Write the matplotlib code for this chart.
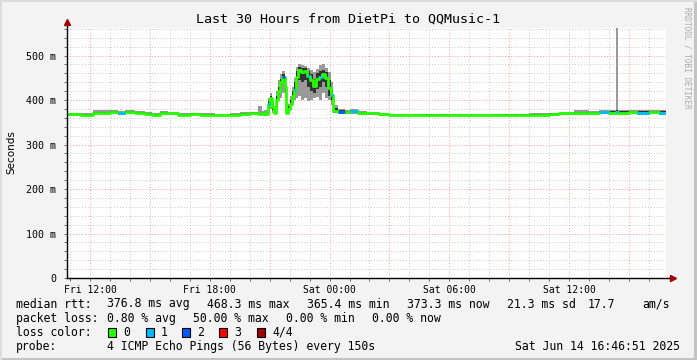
import numpy as np
import matplotlib
matplotlib.use("Agg")
import matplotlib.pyplot as plt
from matplotlib.patches import Rectangle
from matplotlib.lines import Line2D
from matplotlib.ticker import MultipleLocator, FixedLocator

# hours since Fri 00:00
start_time = 10.85
end_time = 40.85

times = [10.85, 11.50, 12.15, 13.00, 13.40, 13.75, 14.25, 14.75, 15.10, 15.50,
         15.90, 16.40, 17.00, 17.50, 18.25, 19.00, 19.50, 20.00, 20.40, 20.60,
         20.70, 20.90, 21.00, 21.10, 21.20, 21.30, 21.40, 21.50, 21.60, 21.75,
         21.80, 21.90, 22.00, 22.10, 22.20, 22.30, 22.40, 22.55, 22.70, 22.85,
         23.00, 23.15, 23.30, 23.45, 23.60, 23.75, 23.90, 24.05, 24.15, 24.40,
         24.75, 25.00, 25.40, 25.90, 26.50, 27.00, 28.50, 30.00, 32.50, 34.00,
         35.00, 35.50, 36.25, 37.00, 37.50, 38.00, 38.35, 38.45, 39.00, 39.40,
         40.00, 40.50]

# median rtt in ms
median = [368, 367, 372, 373, 370, 373, 372, 369, 367, 371,
          370, 367, 369, 367, 366, 367, 369, 371, 369, 372,
          368, 392, 405, 385, 372, 400, 420, 440, 452, 430,
          372, 380, 392, 410, 423, 452, 468, 462, 465, 455,
          445, 432, 448, 452, 458, 450, 428, 412, 376, 374,
          373, 375, 372, 370, 368, 366, 367, 366, 367, 367,
          368, 370, 372, 371, 373, 372, 374, 372, 373, 372,
          373, 372]

# number of lost pings (of 4)
loss = [0, 0, 0, 0, 1, 0, 0, 0, 0, 0,
        0, 0, 0, 0, 0, 0, 0, 0, 0, 0,
        0, 1, 0, 0, 0, 0, 0, 0, 2, 0,
        0, 0, 0, 0, 1, 0, 0, 0, 0, 1,
        0, 0, 0, 1, 0, 0, 0, 1, 0, 2,
        0, 1, 0, 0, 0, 0, 0, 0, 0, 0,
        0, 0, 0, 0, 1, 0, 1, 0, 0, 1,
        0, 1]

# smoke: outer (min/max) and inner band in ms
smoke_lo = [365, 364, 368, 369, 366, 369, 368, 366, 364, 367,
            366, 364, 366, 364, 364, 364, 366, 367, 366, 368,
            364, 371, 380, 372, 368, 385, 400, 405, 415, 405,
            368, 372, 380, 392, 400, 405, 410, 400, 405, 398,
            400, 405, 408, 400, 415, 405, 400, 390, 370, 368,
            368, 369, 367, 366, 365, 364, 365, 364, 365, 364,
            365, 366, 367, 366, 368, 367, 368, 367, 368, 367,
            368, 367]
smoke_hi = [371, 370, 378, 377, 376, 377, 376, 373, 371, 375,
            373, 370, 372, 370, 369, 370, 373, 374, 386, 376,
            378, 405, 417, 400, 385, 420, 445, 458, 465, 455,
            380, 392, 410, 430, 450, 475, 480, 478, 476, 472,
            468, 462, 470, 478, 480, 472, 462, 440, 390, 380,
            378, 379, 376, 373, 371, 369, 369, 368, 369, 370,
            372, 374, 377, 376, 378, 377, 600, 377, 377, 377,
            377, 377]
core_lo = [366, 366, 370, 371, 368, 371, 370, 367, 365, 369,
           368, 366, 367, 366, 365, 366, 367, 369, 367, 370,
           366, 380, 395, 378, 370, 392, 410, 425, 440, 418,
           370, 375, 385, 400, 410, 430, 445, 440, 445, 430,
           420, 415, 425, 430, 440, 430, 410, 400, 372, 371,
           370, 372, 369, 368, 366, 365, 366, 365, 366, 366,
           366, 368, 369, 368, 370, 369, 371, 369, 370, 369,
           370, 369]
core_hi = [369, 368, 374, 375, 372, 375, 374, 371, 369, 373,
           372, 368, 370, 368, 367, 368, 371, 373, 372, 374,
           372, 398, 410, 392, 378, 410, 430, 448, 458, 440,
           376, 386, 400, 420, 440, 465, 475, 472, 472, 465,
           458, 448, 460, 465, 468, 462, 445, 425, 382, 377,
           376, 377, 374, 372, 369, 367, 368, 367, 368, 368,
           370, 372, 374, 374, 376, 375, 378, 375, 376, 375,
           376, 375]

tick_hours = [12, 18, 24, 30, 36]
tick_labels = ["Fri 12:00", "Fri 18:00", "Sat 00:00", "Sat 06:00", "Sat 12:00"]
y_ticks = [0, 100, 200, 300, 400, 500]
y_labels = ["0", "100 m", "200 m", "300 m", "400 m", "500 m"]

loss_colors = {0: "#26ff00", 1: "#00b8ff", 2: "#0059ff", 3: "#ff0000", 4: "#a10000"}
legend_entries = [("0", 0), ("1", 1), ("2", 2), ("3", 3), ("4/4", 4)]

W, H = 697, 360
MONO = "DejaVu Sans Mono"


def fx(x):
    return x / W


def fy(y):
    return 1 - y / H


fig = plt.figure(figsize=(W / 100, H / 100), dpi=100, facecolor="#f3f3f3")
ax = fig.add_axes([fx(67), fy(278), (666 - 67) / W, (278 - 28) / H])
ax.set_facecolor("white")

t_ext = times + [end_time]


def ext(vals):
    return list(vals) + [vals[-1]]


ax.fill_between(t_ext, ext(smoke_lo), ext(smoke_hi), step="post",
                color="#999999", lw=0, zorder=2)
ax.fill_between(t_ext, ext(core_lo), ext(core_hi), step="post",
                color="#333333", lw=0, zorder=3)
ax.step(t_ext, ext(median), where="post", color=loss_colors[0], lw=2.0,
        zorder=4)
for i, n in enumerate(loss):
    if n > 0:
        ax.plot([t_ext[i], t_ext[i + 1]], [median[i], median[i]],
                color=loss_colors[n], lw=2.0, solid_capstyle="butt", zorder=5)

ax.set_xlim(start_time, end_time)
ax.set_ylim(0, 562)

ax.xaxis.set_major_locator(FixedLocator(tick_hours))
ax.xaxis.set_minor_locator(MultipleLocator(1))
ax.set_xticklabels(tick_labels, fontsize=7, family=MONO)
ax.yaxis.set_major_locator(FixedLocator(y_ticks))
ax.yaxis.set_minor_locator(MultipleLocator(20))
ax.set_yticklabels(y_labels, fontsize=7.2, family=MONO)

# grid
for h in np.arange(12, 41, 3):
    ax.axvline(h, color="#ff9a9a", lw=0.7, ls=(0, (1, 2)), zorder=1)
for h in np.arange(11, 41, 1):
    if (h - 12) % 3:
        ax.axvline(h, color="#c8c8c8", lw=0.7, ls=(0, (1, 2)), zorder=1)
for v in np.arange(20, 561, 20):
    c = "#ff9a9a" if v % 100 == 0 else "#c8c8c8"
    ax.axhline(v, color=c, lw=0.7, ls=(0, (1, 2)), zorder=1)

ax.tick_params(which="both", direction="out", length=2, width=0.6,
               colors="#555555", labelcolor="black", pad=3)
ax.tick_params(axis="y", which="major", pad=6)
for s in ax.spines.values():
    s.set_visible(False)

# axes with arrows
ax.add_line(Line2D([0, 0], [0, 1.025], transform=ax.transAxes, color="black",
                   lw=1, clip_on=False, zorder=6))
ax.add_line(Line2D([0, 1.012], [0, 0], transform=ax.transAxes, color="black",
                   lw=1, clip_on=False, zorder=6))
ax.plot([0], [1.025], marker="^", color="#a00000", ms=4, transform=ax.transAxes,
        clip_on=False, zorder=7)
ax.plot([1.012], [0], marker=">", color="#a00000", ms=4, transform=ax.transAxes,
        clip_on=False, zorder=7)

fig.text(fx(11), fy(152), "Seconds", rotation=90, ha="center", va="center",
         fontsize=7.5, family="DejaVu Sans")
fig.text(fx(348), fy(19), "Last 30 Hours from DietPi to QQMusic-1",
         ha="center", va="center", fontsize=9.6, family=MONO)
fig.text(fx(687), fy(58), "RRDTOOL / TOBI OETIKER", rotation=270, ha="center",
         va="center", fontsize=5.6, family=MONO, color="#aaaaaa")

# legend
lf = dict(fontsize=8.3, family=MONO, va="center", ha="left")
y1, y2, y3, y4 = 304, 318.5, 332, 346.5
fig.text(fx(16), fy(y1), "median rtt:", **lf)
for x, s in [(107, "376.8 ms avg"), (207, "468.3 ms max"), (307, "365.4 ms min"),
             (407, "373.3 ms now"), (507, "21.3 ms sd"), (588, "17.7"),
             (642, "am/s")]:
    fig.text(fx(x), fy(y1), s, **lf)
fig.text(fx(16), fy(y2), "packet loss:", **lf)
for x, s in [(107, "0.80 % avg"), (193, "50.00 % max"), (286, "0.00 % min"),
             (372, "0.00 % now")]:
    fig.text(fx(x), fy(y2), s, **lf)
fig.text(fx(16), fy(y3), "loss color:", **lf)
for (label, n), bx in zip(legend_entries, [108, 146, 182, 219, 257]):
    fig.patches.append(Rectangle((fx(bx), fy(y3 + 4.5)), 8 / W, 9 / H,
                                 transform=fig.transFigure,
                                 facecolor=loss_colors[n], edgecolor="black",
                                 lw=0.8))
    fig.text(fx(bx + 15), fy(y3), label, **lf)
fig.text(fx(16), fy(y4), "probe:", **lf)
fig.text(fx(107), fy(y4), "4 ICMP Echo Pings (56 Bytes) every 150s", **lf)
fig.text(fx(680), fy(y4), "Sat Jun 14 16:46:51 2025",
         **{**lf, "ha": "right"})

# frame shading
fig.add_artist(Line2D([fx(695), fx(695)], [0, 1], color="#c4c4c4", lw=2.2,
                      transform=fig.transFigure))
fig.add_artist(Line2D([0, 1], [fy(358.5), fy(358.5)], color="#c4c4c4", lw=2.2,
                      transform=fig.transFigure))
fig.add_artist(Line2D([fx(1), fx(1)], [0, 1], color="#dcdcdc", lw=1.4,
                      transform=fig.transFigure))
fig.add_artist(Line2D([0, 1], [fy(1), fy(1)], color="#dcdcdc", lw=1.4,
                      transform=fig.transFigure))

fig.savefig("out.png", dpi=100, facecolor=fig.get_facecolor())
